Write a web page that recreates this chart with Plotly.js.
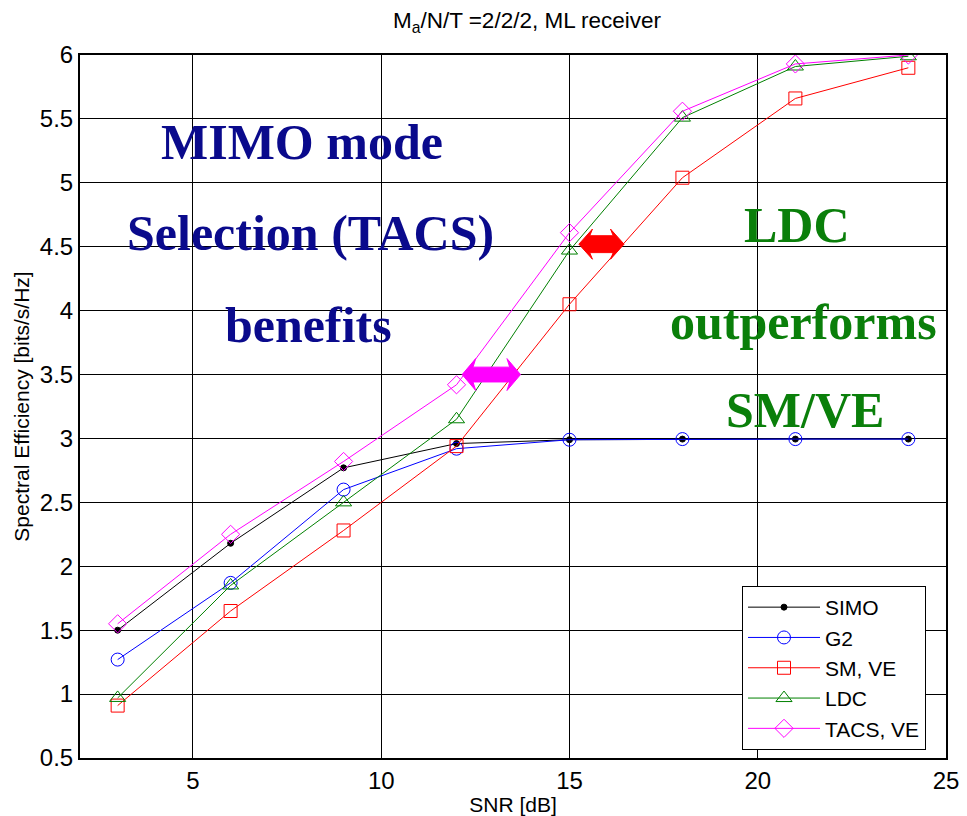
<!DOCTYPE html>
<html>
<head>
<meta charset="utf-8">
<script src="https://cdn.plot.ly/plotly-3.0.1.min.js"></script>
<style>html,body{margin:0;padding:0;background:#fff;}#chart{width:967px;height:816px;}</style>
</head>
<body>
<div id="chart"></div>
<script>
const snr = [3, 6, 9, 12, 15, 18, 21, 24];
const simo = [1.50, 2.18, 2.77, 2.96, 2.99, 2.995, 2.995, 2.995];
const g2 = [1.27, 1.87, 2.60, 2.92, 2.99, 2.995, 2.995, 2.995];
const smve = [0.91, 1.65, 2.28, 2.94, 4.05, 5.04, 5.66, 5.90];
const ldc = [0.97, 1.85, 2.50, 3.15, 4.47, 5.51, 5.91, 5.99];
const tacs = [1.55, 2.25, 2.82, 3.42, 4.61, 5.56, 5.93, 6.00];
const seriesNames = ['SIMO', 'G2', 'SM, VE', 'LDC', 'TACS, VE'];
const xTicks = [5, 10, 15, 20, 25];
const yTicks = [0.5, 1, 1.5, 2, 2.5, 3, 3.5, 4, 4.5, 5, 5.5, 6];
// double arrows: [x start, x end, y level]
const arrowTACS = [12.15, 13.7, 3.5];
const arrowLDC = [15.25, 16.45, 4.52];

const mk = (y, name, color, symbol, size) => ({
  x: snr, y: y, name: name, type: 'scatter', mode: 'lines+markers',
  line: {color: color, width: 1},
  marker: {symbol: symbol, size: size, color: color, line: {color: color, width: 1}}
});

const data = [
  mk(simo, seriesNames[0], '#000000', 'circle', 6),
  mk(g2, seriesNames[1], '#0000ff', 'circle-open', 13),
  mk(smve, seriesNames[2], '#ff0000', 'square-open', 13),
  mk(ldc, seriesNames[3], '#008000', 'triangle-up-open', 14),
  mk(tacs, seriesNames[4], '#ff00ff', 'diamond-open', 14)
];

const serif = 'Liberation Serif, Times New Roman, serif';
const navy = '#0a0a8c';
const green = '#0a7f0a';
const txt = (t, x, y, c) => ({text: '<b>' + t + '</b>', xref: 'paper', yref: 'paper',
  x: x, y: y, showarrow: false, font: {family: serif, size: 50, color: c}, xanchor: 'center', yanchor: 'middle'});
const px = (p) => (p - 80) / 866;
const py = (p) => (758 - p) / 703;

const dblArrow = (a, hl, hh, sh, c) => {
  const [x0, x1, y] = a;
  const p = [[x0, y], [x0 + hl, y + hh], [x0 + hl * 0.8, y + sh], [x1 - hl * 0.8, y + sh], [x1 - hl, y + hh], [x1, y],
             [x1 - hl, y - hh], [x1 - hl * 0.8, y - sh], [x0 + hl * 0.8, y - sh], [x0 + hl, y - hh]];
  return {type: 'path', xref: 'x', yref: 'y', fillcolor: c, line: {color: c, width: 1},
          path: 'M' + p.map(q => q[0] + ',' + q[1]).join(' L') + ' Z'};
};

const layout = {
  width: 967, height: 816,
  margin: {l: 80, r: 21, t: 55, b: 58},
  paper_bgcolor: '#fff', plot_bgcolor: '#fff',
  font: {family: 'Liberation Sans, Arial, sans-serif', color: '#000'},
  title: {text: 'M<sub>a</sub>/N/T =2/2/2, ML receiver', x: 0.545, xanchor: 'center', y: 0.975, yanchor: 'middle',
          font: {size: 22.5, family: 'Liberation Sans, Arial', color: '#000'}},
  xaxis: {range: [2, 25], tickvals: xTicks, ticktext: xTicks.map(String), showgrid: true, gridcolor: '#000', gridwidth: 1,
          zeroline: false, showline: true, linecolor: '#000', linewidth: 2, mirror: true,
          ticks: 'inside', ticklen: 6, tickcolor: '#000', tickfont: {size: 24},
          title: {text: 'SNR [dB]', font: {size: 21}, standoff: 2}},
  yaxis: {range: [0.5, 6], tickvals: yTicks, ticktext: yTicks.map(String), showgrid: true, gridcolor: '#000', gridwidth: 1,
          zeroline: false, showline: true, linecolor: '#000', linewidth: 2, mirror: true,
          ticks: 'inside', ticklen: 6, tickcolor: '#000', tickfont: {size: 24}, ticklabelstandoff: 0,
          title: {text: 'Spectral Efficiency [bits/s/Hz]', font: {size: 21}, standoff: 4}},
  legend: {x: px(742), y: py(586), xanchor: 'left', yanchor: 'top', bgcolor: '#fff', bordercolor: '#000', borderwidth: 1,
           font: {size: 21}, itemwidth: 72, tracegroupgap: 0},
  showlegend: true,
  shapes: [dblArrow(arrowTACS, 0.36, 0.125, 0.058, '#ff00ff'), dblArrow(arrowLDC, 0.36, 0.118, 0.066, '#ff0000')],
  annotations: [
    txt('MIMO mode', px(302), py(142), navy),
    txt('Selection (TACS)', px(310), py(233), navy),
    txt('benefits', px(308), py(325), navy),
    txt('LDC', px(797), py(225), green),
    txt('outperforms', px(803), py(322), green),
    txt('SM/VE', px(805), py(410), green)
  ]
};

Plotly.newPlot('chart', data, layout, {displayModeBar: false, staticPlot: true});
</script>
</body>
</html>
